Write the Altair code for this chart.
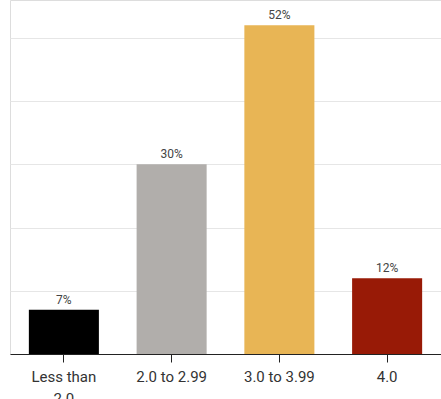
import altair as alt
import pandas as pd

categories = ["Less than 2.0", "2.0 to 2.99", "3.0 to 3.99", "4.0"]
values = [7, 30, 52, 12]
labels = ["7%", "30%", "52%", "12%"]
colors = ["#000000", "#b1aeab", "#e8b555", "#981a06"]

df = pd.DataFrame({"cat": categories, "val": values, "lab": labels})

x = alt.X("cat:N", sort=categories, title=None,
          scale=alt.Scale(paddingInner=0.35, paddingOuter=0.175),
          axis=alt.Axis(labelAngle=0, labelFont="Roboto", labelFontSize=15,
                        labelColor="#333333", labelPadding=7, tickSize=8,
                        tickColor="#222222", domainColor="#222222",
                        labelLineHeight=22,
                        labelExpr="datum.label == 'Less than 2.0' ? ['Less than', '2.0'] : datum.label"))
y = alt.Y("val:Q", title=None,
          scale=alt.Scale(domain=[0, 56], nice=False),
          axis=alt.Axis(values=[10, 20, 30, 40, 50], labels=False, ticks=False,
                        domain=False, gridColor="#e6e6e6", gridWidth=1))

bars = alt.Chart(df).mark_bar().encode(
    x=x, y=y,
    color=alt.Color("cat:N", sort=categories,
                    scale=alt.Scale(domain=categories, range=colors), legend=None),
)
text = alt.Chart(df).mark_text(baseline="bottom", dy=-3, font="Roboto",
                               fontSize=12, color="#444444").encode(
    x=alt.X("cat:N", sort=categories), y="val:Q", text="lab:N")

chart = (bars + text).properties(
    width=431, height=354,
    autosize=alt.AutoSizeParams(type="none"),
    padding={"left": 10, "top": 0, "right": 0, "bottom": 45},
).configure_view(stroke=None).configure(background="white")

chart.save("out.html", embed_options={"renderer": "svg", "actions": False})
